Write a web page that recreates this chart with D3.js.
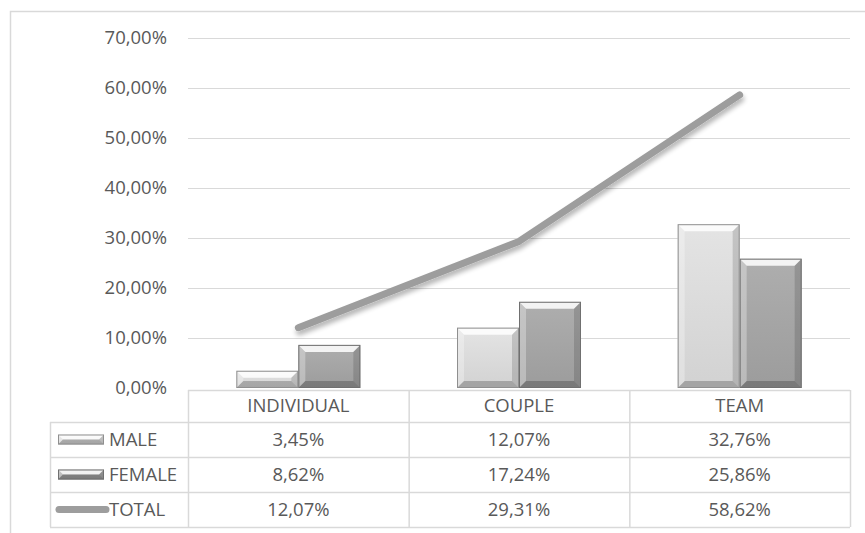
<!DOCTYPE html>
<html>
<head>
<meta charset="utf-8">
<script src="https://cdn.jsdelivr.net/npm/d3@7"></script>
<style>
  html, body { margin: 0; padding: 0; background: #fff; }
  svg text { font-family: "Open Sans", Lato, sans-serif; fill: #595959; }
</style>
</head>
<body>
<svg id="chart" width="865" height="533"></svg>
<script>
// Categories and series (fractions)
const categories = ["INDIVIDUAL", "COUPLE", "TEAM"];
const maleValues = [0.0345, 0.1207, 0.3276];
const femaleValues = [0.0862, 0.1724, 0.2586];
const totalValues = [0.1207, 0.2931, 0.5862];
const seriesNames = ["MALE", "FEMALE", "TOTAL"];
const yTicks = [0, 0.1, 0.2, 0.3, 0.4, 0.5, 0.6, 0.7];

const svg = d3.select("#chart");
const W = 865, H = 533;
const plot = { left: 188, right: 850, top: 38, bottom: 388 };
const tableLeft = 50;
const rowH = [32, 35, 35, 35];
const fontSize = 18.5;

const fmt = v => d3.format(".2f")(v * 100).replace(".", ",") + "%";

const x = d3.scaleBand().domain(categories).range([plot.left, plot.right]).paddingInner(0).paddingOuter(0);
const y = d3.scaleLinear().domain([0, 0.7]).range([plot.bottom, plot.top]);

const defs = svg.append("defs");
function grad(id, stops) {
  const g = defs.append("linearGradient").attr("id", id).attr("x1", 0).attr("y1", 0).attr("x2", 0).attr("y2", 1);
  stops.forEach(s => g.append("stop").attr("offset", s[0]).attr("stop-color", s[1]));
}
grad("gMale", [[0, "#e4e4e4"], [1, "#d2d2d2"]]);
grad("gFemale", [[0, "#aeaeae"], [1, "#9c9c9c"]]);
const shadow = defs.append("filter").attr("id", "lineShadow").attr("x", "-10%").attr("y", "-10%").attr("width", "120%").attr("height", "140%");
shadow.append("feGaussianBlur").attr("in", "SourceAlpha").attr("stdDeviation", 2.5).attr("result", "b");
shadow.append("feOffset").attr("in", "b").attr("dx", 1).attr("dy", 4).attr("result", "o");
shadow.append("feComponentTransfer").attr("in", "o").attr("result", "s")
  .append("feFuncA").attr("type", "linear").attr("slope", 0.3);
const m = shadow.append("feMerge");
m.append("feMergeNode").attr("in", "s");
m.append("feMergeNode").attr("in", "SourceGraphic");

// Outer frame
svg.append("rect").attr("x", 10.5).attr("y", 11.5).attr("width", W).attr("height", H)
  .attr("fill", "none").attr("stroke", "#d9d9d9").attr("stroke-width", 1.5);

// Gridlines and y labels
const yAxis = svg.append("g");
yAxis.selectAll("line").data(yTicks.filter(t => t > 0)).join("line")
  .attr("x1", plot.left).attr("x2", plot.right)
  .attr("y1", d => Math.round(y(d)) + 0.5).attr("y2", d => Math.round(y(d)) + 0.5)
  .attr("stroke", "#d9d9d9").attr("stroke-width", 1.2);
yAxis.selectAll("text").data(yTicks).join("text")
  .attr("x", 167).attr("y", d => y(d)).attr("dy", "0.35em")
  .attr("text-anchor", "end").attr("font-size", fontSize).text(fmt);

// Bevelled bars
function bevelBar(g, x0, y0, w, h, fillId, base) {
  const b = Math.min(7, h / 2, w / 2);
  g.append("rect").attr("x", x0).attr("y", y0).attr("width", w).attr("height", h).attr("fill", `url(#${fillId})`);
  const poly = (pts, fill, op) => g.append("polygon").attr("points", pts.map(p => p.join(",")).join(" ")).attr("fill", fill).attr("opacity", op);
  const x1 = x0 + w, y1 = y0 + h;
  poly([[x0, y0], [x1, y0], [x1 - b, y0 + b], [x0 + b, y0 + b]], "#ffffff", 0.85);
  poly([[x0, y0], [x0 + b, y0 + b], [x0 + b, y1 - b], [x0, y1]], "#ffffff", 0.3);
  poly([[x1, y0], [x1, y1], [x1 - b, y1 - b], [x1 - b, y0 + b]], "#000000", 0.14);
  poly([[x0, y1], [x0 + b, y1 - b], [x1 - b, y1 - b], [x1, y1]], "#000000", 0.22);
  g.append("rect").attr("x", x0 + 0.5).attr("y", y0 + 0.5).attr("width", w - 1).attr("height", h - 1)
    .attr("fill", "none").attr("stroke", base).attr("stroke-width", 1);
}

const barW = 62;
const bars = svg.append("g");
categories.forEach((c, i) => {
  const cx = x(c) + x.bandwidth() / 2;
  bevelBar(bars, cx - barW, y(maleValues[i]), barW, y(0) - y(maleValues[i]), "gMale", "#8f8f8f");
  bevelBar(bars, cx, y(femaleValues[i]), barW, y(0) - y(femaleValues[i]), "gFemale", "#707070");
});

// Total line
const line = d3.line().x((d, i) => x(categories[i]) + x.bandwidth() / 2).y(d => y(d));
svg.append("path").datum(totalValues).attr("d", line)
  .attr("fill", "none").attr("stroke", "#9d9d9d").attr("stroke-width", 7)
  .attr("stroke-linecap", "round").attr("stroke-linejoin", "round")
  .attr("filter", "url(#lineShadow)");

// Data table
const table = svg.append("g");
const rowTops = [plot.bottom + 2];
rowH.forEach((h, i) => rowTops.push(rowTops[i] + h));
const gridColor = "#d9d9d9";
rowTops.forEach((ty, i) => {
  table.append("line").attr("x1", i === 0 ? plot.left : tableLeft).attr("x2", plot.right)
    .attr("y1", ty + 0.5).attr("y2", ty + 0.5).attr("stroke", gridColor).attr("stroke-width", 1.5);
});
const vx = [plot.left, ...categories.map(c => x(c) + x.bandwidth())];
vx.forEach(vv => table.append("line").attr("x1", vv + 0.5).attr("x2", vv + 0.5)
  .attr("y1", rowTops[0]).attr("y2", rowTops[4]).attr("stroke", gridColor).attr("stroke-width", 1.5));
table.append("line").attr("x1", tableLeft + 0.5).attr("x2", tableLeft + 0.5)
  .attr("y1", rowTops[1]).attr("y2", rowTops[4]).attr("stroke", gridColor).attr("stroke-width", 1.5);

// category header
table.selectAll("text.cat").data(categories).join("text").attr("class", "cat")
  .attr("x", d => x(d) + x.bandwidth() / 2).attr("y", rowTops[0] + rowH[0] / 2).attr("dy", "0.35em")
  .attr("text-anchor", "middle").attr("font-size", fontSize).text(d => d);

const rows = [maleValues, femaleValues, totalValues];
rows.forEach((vals, r) => {
  const cy = rowTops[r + 1] + rowH[r + 1] / 2;
  table.selectAll(null).data(vals).join("text")
    .attr("x", (d, i) => x(categories[i]) + x.bandwidth() / 2).attr("y", cy).attr("dy", "0.35em")
    .attr("text-anchor", "middle").attr("font-size", fontSize).text(fmt);
  table.append("text").attr("x", 109).attr("y", cy).attr("dy", "0.35em")
    .attr("font-size", fontSize).text(seriesNames[r]);
  if (r < 2) {
    bevelBar(table, 58, cy - 5, 46, 10, r === 0 ? "gMale" : "gFemale", r === 0 ? "#8f8f8f" : "#707070");
  } else {
    table.append("line").attr("x1", 59).attr("x2", 106).attr("y1", cy).attr("y2", cy)
      .attr("stroke", "#9d9d9d").attr("stroke-width", 7).attr("stroke-linecap", "round");
  }
});
</script>
</body>
</html>
